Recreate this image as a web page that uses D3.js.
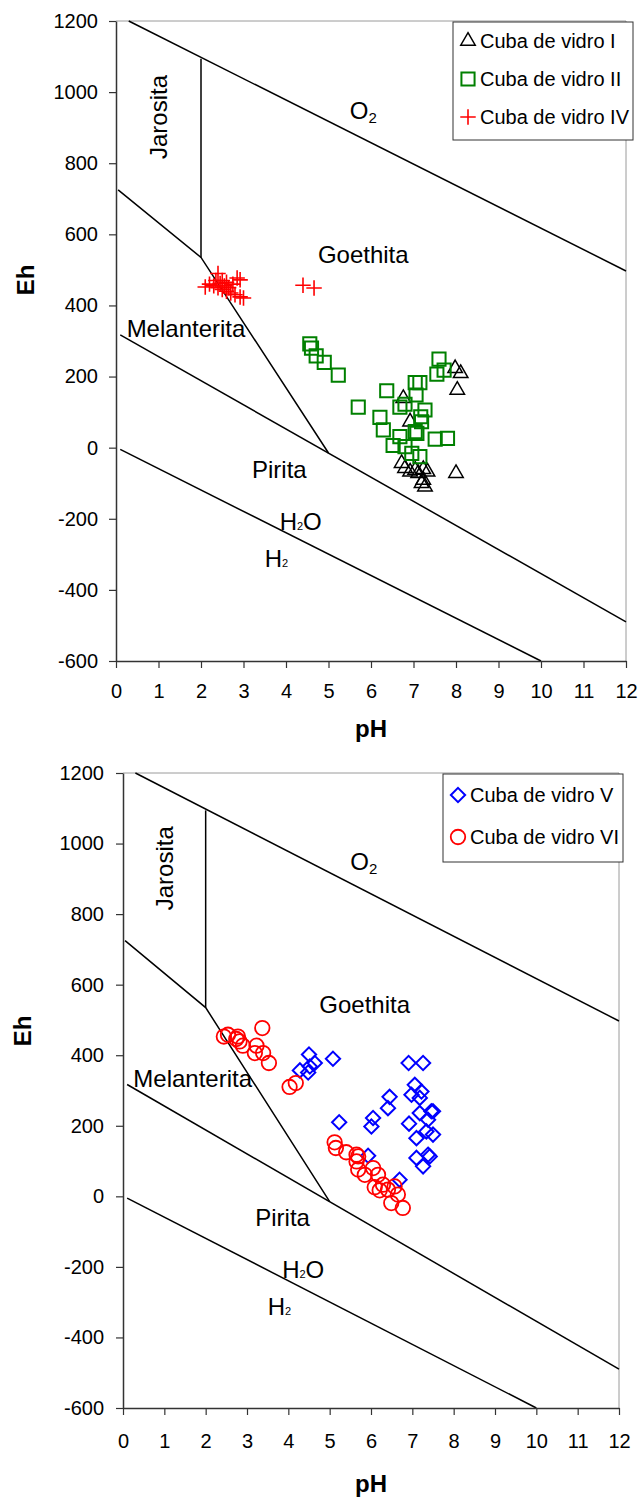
<!DOCTYPE html>
<html>
<head>
<meta charset="utf-8">
<script src="https://cdn.jsdelivr.net/npm/d3@7"></script>
<style>
  body { margin: 0; background: #fff; }
  svg { display: block; font-family: "Liberation Sans", Arial, Helvetica, sans-serif; }
</style>
</head>
<body>
<div id="chart"></div>
<script>
const phTicks = [0, 1, 2, 3, 4, 5, 6, 7, 8, 9, 10, 11, 12];
const ehTicks = [-600, -400, -200, 0, 200, 400, 600, 800, 1000, 1200];

// field boundaries of the Eh-pH diagram, [pH, Eh]
const lineO2 = [[0.3, 1200], [12, 497]];
const lineJarosita = [[2, 1094], [2, 535]];
const lineGoethita = [[0.05, 725], [2, 535], [5, -15]];
const lineMelanterita = [[0.1, 317], [12, -490]];
const lineH2 = [[0.1, -5], [10, -600]];

const regionNames = ['Jarosita', 'O2', 'Goethita', 'Melanterita', 'Pirita', 'H2O', 'H2'];
const regionPH = [1.0, 5.5, 4.75, 0.25, 3.2, 3.85, 3.5];
const regionEh = [930, 925, 520, 310, -85, -232, -336];

// measured points, [pH, Eh]
const cubaI = [[7.98, 223], [8.11, 209], [8.03, 162], [8.0, -72], [6.76, 139], [6.92, 73],
  [6.72, -44], [6.80, -58], [6.92, -68], [7.04, -63], [7.23, -61], [7.33, -68], [7.11, -72],
  [7.19, -100], [7.23, -91], [7.27, -110]];
const cubaII = [[4.56, 292], [4.60, 280], [4.71, 258], [4.90, 240], [5.23, 204], [5.70, 114],
  [6.37, 160], [6.21, 85], [6.29, 50], [6.52, 6], [6.68, 114], [6.80, 122], [7.04, 183],
  [7.15, 183], [7.06, 148], [7.60, 249], [7.72, 218], [7.55, 207], [7.27, 106], [7.17, 87],
  [7.04, 45], [7.08, 40], [6.68, 31], [7.51, 24], [7.80, 26], [6.80, 3], [6.96, -16],
  [7.15, -25], [7.19, 73]];
const cubaIV = [[2.1, 452], [2.2, 460], [2.3, 455], [2.35, 470], [2.4, 490], [2.4, 450],
  [2.45, 462], [2.5, 445], [2.5, 470], [2.55, 455], [2.6, 440], [2.6, 465], [2.65, 450],
  [2.7, 435], [2.75, 460], [2.85, 477], [2.92, 472], [2.8, 430], [2.92, 424], [3.0, 421],
  [4.4, 457], [4.66, 449]];
const cubaV = [[4.50, 402], [4.64, 378], [4.52, 368], [4.28, 357], [4.48, 351], [5.08, 390],
  [6.91, 378], [7.26, 378], [7.06, 316], [6.98, 288], [7.18, 279], [7.22, 297], [6.45, 282],
  [6.41, 250], [7.46, 241], [7.18, 236], [6.05, 222], [5.23, 210], [6.01, 198], [6.92, 206],
  [7.38, 217], [7.10, 165], [7.50, 175], [7.34, 184], [7.50, 241], [7.10, 109], [7.38, 118],
  [7.26, 85], [5.93, 115], [6.69, 47], [7.42, 113]];
const cubaVI = [[2.44, 453], [2.54, 458], [2.78, 453], [2.82, 439], [2.74, 446], [2.90, 427],
  [3.37, 477], [3.23, 427], [3.19, 406], [3.39, 406], [3.53, 378], [4.03, 310], [4.18, 321],
  [5.12, 153], [5.15, 137], [5.40, 125], [5.65, 118], [5.69, 113], [5.65, 99], [5.69, 76],
  [5.85, 61], [6.05, 80], [6.17, 61], [6.09, 26], [6.29, 33], [6.21, 17], [6.41, 19],
  [6.57, 28], [6.65, 5], [6.49, -19], [6.77, -33]];

const boundaries = [lineO2, lineJarosita, lineGoethita, lineMelanterita, lineH2];

const svg = d3.select('#chart').append('svg')
  .attr('width', 639)
  .attr('height', 1502);

function drawChart(cfg) {
  const g = svg.append('g');
  const x = d3.scaleLinear().domain([0, 12]).range([cfg.left, cfg.right]);
  const y = d3.scaleLinear().domain([-600, 1200]).range([cfg.bottom, cfg.top]);

  // grey frame on top and right
  g.append('path')
    .attr('d', `M${cfg.left},${cfg.top}H${cfg.right}V${cfg.bottom}`)
    .attr('fill', 'none')
    .attr('stroke', '#9a9a9a')
    .attr('stroke-width', 1);

  const line = d3.line().x((d) => x(d[0])).y((d) => y(d[1]));
  g.selectAll('path.bound')
    .data(boundaries)
    .enter()
    .append('path')
    .attr('class', 'bound')
    .attr('d', line)
    .attr('fill', 'none')
    .attr('stroke', '#000')
    .attr('stroke-width', 1.5);

  // field names
  const labels = g.selectAll('text.region')
    .data(regionNames)
    .enter()
    .append('text')
    .attr('class', 'region')
    .attr('font-size', 24)
    .attr('fill', '#000');
  labels.each(function (name, i) {
    const t = d3.select(this);
    const px = x(regionPH[i]);
    const py = y(regionEh[i]);
    if (name === 'Jarosita') {
      t.attr('text-anchor', 'middle')
        .attr('transform', `translate(${px},${py}) rotate(-90)`)
        .attr('dy', '0.35em')
        .text(name);
      return;
    }
    t.attr('x', px).attr('y', py);
    let shifted = 0;
    name.split(/(\d)/).filter((s) => s).forEach((part) => {
      if (/\d/.test(part)) {
        const big = name === 'O2';
        shifted = big ? 4 : 0;
        t.append('tspan')
          .attr('font-size', big ? 15 : 11)
          .attr('dy', shifted)
          .text(part);
      } else {
        t.append('tspan')
          .attr('dy', -shifted)
          .text(part);
        shifted = 0;
      }
    });
  });

  // axes
  const ax = g.append('g')
    .attr('transform', `translate(${cfg.left},0)`)
    .call(d3.axisLeft(y).tickValues(ehTicks).tickFormat((d) => String(d))
      .tickSize(7).tickSizeOuter(0).tickPadding(cfg.yPad));
  const bx = g.append('g')
    .attr('transform', `translate(0,${cfg.bottom})`)
    .call(d3.axisBottom(x).tickValues(phTicks).tickFormat((d) => String(d))
      .tickSize(7).tickSizeOuter(0).tickPadding(cfg.xPad));
  [ax, bx].forEach((a) => {
    a.attr('font-size', 20).attr('font-family', null);
    a.select('.domain').attr('stroke', '#333').attr('stroke-width', 1.5);
    a.selectAll('.tick line').attr('stroke', '#333').attr('stroke-width', 1.2);
    a.selectAll('.tick text').attr('fill', '#000');
  });

  g.append('text')
    .attr('transform', `translate(${cfg.ehX},${cfg.ehY}) rotate(-90)`)
    .attr('text-anchor', 'middle')
    .attr('dy', '0.35em')
    .attr('font-size', 24)
    .attr('font-weight', 'bold')
    .text('Eh');
  g.append('text')
    .attr('x', (cfg.left + cfg.right) / 2)
    .attr('y', cfg.phY)
    .attr('text-anchor', 'middle')
    .attr('font-size', 24)
    .attr('font-weight', 'bold')
    .text('pH');

  // points
  cfg.series.forEach((s) => {
    const sym = d3.symbol().type(s.type).size(s.size);
    g.append('g')
      .selectAll('path')
      .data(s.data)
      .enter()
      .append('path')
      .attr('d', sym)
      .attr('transform', (d) => `translate(${x(d[0])},${y(d[1])})`)
      .attr('fill', 'none')
      .attr('stroke', s.color)
      .attr('stroke-width', s.width);
  });

  // legend
  const lg = g.append('g')
    .attr('transform', `translate(${cfg.legend.x},${cfg.legend.y})`);
  lg.append('rect')
    .attr('width', cfg.legend.w)
    .attr('height', cfg.legend.h)
    .attr('fill', '#fff')
    .attr('stroke', '#333')
    .attr('stroke-width', 1);
  cfg.series.forEach((s, i) => {
    const ry = cfg.legend.rows[i];
    lg.append('path')
      .attr('d', d3.symbol().type(s.type).size(s.size)())
      .attr('transform', `translate(15,${ry})`)
      .attr('fill', 'none')
      .attr('stroke', s.color)
      .attr('stroke-width', s.width);
    lg.append('text')
      .attr('x', 27)
      .attr('y', ry)
      .attr('dy', '0.35em')
      .attr('font-size', 20)
      .text(s.name);
  });
}

drawChart({
  left: 116, top: 21, right: 626, bottom: 661,
  yPad: 11, xPad: 16,
  ehX: 26, ehY: 280, phY: 737,
  legend: { x: 453, y: 22, w: 180, h: 118, rows: [19, 57, 95] },
  series: [
    { name: 'Cuba de vidro I', data: cubaI, type: d3.symbolTriangle2, size: 150, color: '#000', width: 1.5 },
    { name: 'Cuba de vidro II', data: cubaII, type: d3.symbolSquare2, size: 220, color: '#008000', width: 2 },
    { name: 'Cuba de vidro IV', data: cubaIV, type: d3.symbolPlus, size: 80, color: '#ff0000', width: 1.6 }
  ]
});

drawChart({
  left: 123, top: 773, right: 619, bottom: 1408,
  yPad: 12, xPad: 19,
  ehX: 22.5, ehY: 1031, phY: 1492,
  legend: { x: 443, y: 774, w: 180, h: 88, rows: [21, 63] },
  series: [
    { name: 'Cuba de vidro V', data: cubaV, type: d3.symbolDiamond2, size: 130, color: '#0000ff', width: 2 },
    { name: 'Cuba de vidro VI', data: cubaVI, type: d3.symbolCircle, size: 165, color: '#ff0000', width: 1.8 }
  ]
});
</script>
</body>
</html>
